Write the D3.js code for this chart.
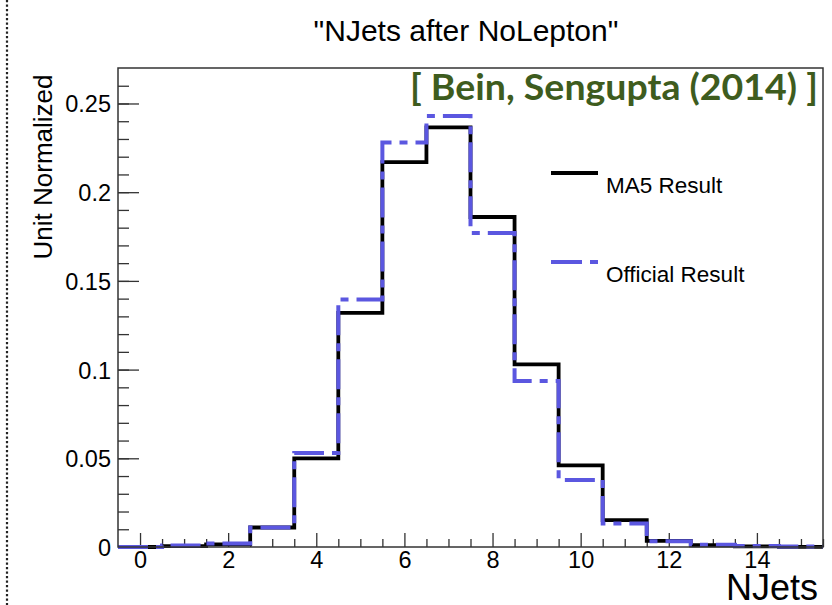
<!DOCTYPE html>
<html>
<head>
<meta charset="utf-8">
<script src="https://cdn.jsdelivr.net/npm/d3@7"></script>
<style>
  body { margin: 0; background: #fff; }
  svg { display: block; }
  text { font-family: "Liberation Sans", Arial, sans-serif; fill: #000; }
</style>
</head>
<body>
<div id="chart"></div>
<script>
////////////////////////////  Data  ////////////////////////////
const njets = [0, 1, 2, 3, 4, 5, 6, 7, 8, 9, 10, 11, 12, 13, 14, 15];
const ma5 = [0, 0.0005, 0.0015, 0.011, 0.05, 0.132, 0.217, 0.2365, 0.186, 0.1029, 0.046, 0.0152, 0.0035, 0.001, 0.0004, 0.0001];
const official = [0, 0.0008, 0.002, 0.011, 0.053, 0.1395, 0.228, 0.243, 0.177, 0.0935, 0.0378, 0.0133, 0.0032, 0.0012, 0.0005, 0.0003];
const xTicks = [0, 2, 4, 6, 8, 10, 12, 14];
const yTicks = [0, 0.05, 0.1, 0.15, 0.2, 0.25];
const legendLabels = ["MA5 Result", "Official Result"];

////////////////////////////  Init  ////////////////////////////
const width = 832;
const height = 605;
const margin = { top: 68, right: 9, bottom: 58, left: 118 };

const svg = d3.select("#chart").append("svg")
  .attr("width", width)
  .attr("height", height);

svg.append("rect").attr("width", width).attr("height", height).attr("fill", "#fff");

// dotted slide edge on the left
svg.append("line")
  .attr("x1", 7).attr("x2", 7).attr("y1", 0).attr("y2", height)
  .attr("stroke", "#222").attr("stroke-width", 2.2)
  .attr("stroke-dasharray", "2.2,2.3");

const xScale = d3.scaleLinear().domain([-0.5, 15.5]).range([margin.left, width - margin.right]);
const yScale = d3.scaleLinear().domain([0, 0.27]).range([height - margin.bottom, margin.top]);

// axes
const xAxis = d3.axisBottom(xScale).tickValues(xTicks).tickSize(-14).tickPadding(4).tickFormat(d3.format("d"));
const xMinor = d3.axisBottom(xScale).tickValues(d3.range(0, 15.6, 0.5).filter(v => v % 2 !== 0)).tickSize(-8).tickFormat("");
const yAxis = d3.axisLeft(yScale).tickValues(yTicks).tickSize(-21).tickPadding(7).tickFormat(d => d === 0 ? "0" : d3.format("~g")(d));
const yMinor = d3.axisLeft(yScale).tickValues(d3.range(0.01, 0.265, 0.01)).tickSize(-11).tickFormat("");

function styleAxis(g) {
  g.select(".domain").remove();
  g.selectAll(".tick line").attr("stroke", "#333").attr("stroke-width", 1.3);
  g.selectAll(".tick text").style("font-size", "23.5px").attr("fill", "#000");
}

svg.append("g").attr("transform", `translate(0, ${height - margin.bottom})`).call(xAxis).call(styleAxis);
svg.append("g").attr("transform", `translate(0, ${height - margin.bottom})`).call(xMinor).call(styleAxis);
svg.append("g").attr("transform", `translate(${margin.left}, 0)`).call(yAxis).call(styleAxis)
  .selectAll(".tick text").attr("dy", "0.36em");
svg.append("g").attr("transform", `translate(${margin.left}, 0)`).call(yMinor).call(styleAxis);

// histograms as step lines
const stepPoints = vals => njets.flatMap((n, i) => [[n - 0.5, vals[i]], [n + 0.5, vals[i]]]);
const line = d3.line().x(d => xScale(d[0])).y(d => yScale(d[1]));

svg.append("path")
  .attr("d", line(stepPoints(ma5)))
  .attr("fill", "none").attr("stroke", "#000").attr("stroke-width", 3.8);

svg.append("path")
  .attr("d", line(stepPoints(official)))
  .attr("fill", "none").attr("stroke", "#5b57e0").attr("stroke-width", 4)
  .attr("stroke-dasharray", "30,8,8,8");

// frame
svg.append("rect")
  .attr("x", margin.left).attr("y", margin.top)
  .attr("width", width - margin.right - margin.left)
  .attr("height", height - margin.bottom - margin.top)
  .attr("fill", "none").attr("stroke", "#333").attr("stroke-width", 1.5);

// title and axis labels
svg.append("text")
  .attr("x", 466).attr("y", 41)
  .attr("text-anchor", "middle")
  .style("font-size", "30px")
  .text("\"NJets after NoLepton\"");

svg.append("text")
  .attr("transform", "translate(52, 167) rotate(-90)")
  .attr("text-anchor", "middle")
  .style("font-size", "26px")
  .text("Unit Normalized");

svg.append("text")
  .attr("x", 818).attr("y", 600)
  .attr("text-anchor", "end")
  .style("font-size", "36px")
  .text("NJets");

// citation
svg.append("text")
  .attr("x", 410).attr("y", 100)
  .attr("textLength", 408).attr("lengthAdjust", "spacingAndGlyphs")
  .style("font-family", "Lato, sans-serif").style("font-weight", "bold")
  .style("font-size", "36px").style("fill", "#3e5c1e")
  .text("[ Bein, Sengupta (2014) ]");

// legend
const legendStyles = [
  { stroke: "#000", width: 4, dash: null },
  { stroke: "#5b57e0", width: 4, dash: "31,8,8,8" }
];
legendLabels.forEach((label, i) => {
  const y = 173 + i * 89;
  svg.append("line")
    .attr("x1", 551).attr("x2", 598).attr("y1", y).attr("y2", y)
    .attr("stroke", legendStyles[i].stroke).attr("stroke-width", legendStyles[i].width)
    .attr("stroke-dasharray", legendStyles[i].dash);
  svg.append("text")
    .attr("x", 606).attr("y", y + 20)
    .style("font-size", "22.5px")
    .text(label);
});
</script>
</body>
</html>
